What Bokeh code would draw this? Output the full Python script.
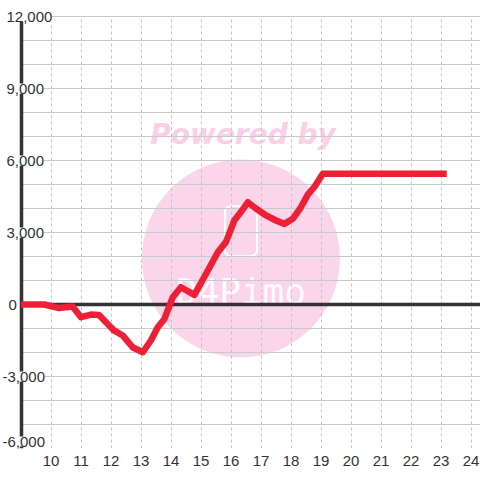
from bokeh.plotting import figure
from bokeh.models import ColumnDataSource, LabelSet, FixedTicker, Grid
from bokeh.core.properties import value
from bokeh.embed import file_html
from bokeh.resources import INLINE

# ---- data ----
hours = [9.0, 9.78, 10.27, 10.72, 11.0, 11.33, 11.6, 12.1, 12.39, 12.72,
         13.06, 13.33, 13.56, 13.78, 14.06, 14.33, 14.78, 15.17, 15.56, 15.83,
         16.11, 16.33, 16.56, 16.83, 17.17, 17.5, 17.78, 18.06, 18.33, 18.56,
         18.78, 19.06, 23.19]
profit = [0, 0, -150, -80, -530, -420, -440, -1080, -1290, -1780,
          -1990, -1500, -950, -600, 300, 720, 400, 1280, 2180, 2600,
          3500, 3850, 4260, 4000, 3710, 3500, 3360, 3570, 4050, 4580,
          4900, 5450, 5450]

x_ticks = list(range(10, 25))
y_grid_ticks = list(range(-6000, 12001, 1000))
y_label_ticks = list(range(-6000, 12001, 3000))
y_labels = [f"{v:,}" for v in y_label_ticks]
x_start = 9
y_min, y_max = -6000, 12000

FONT = "Liberation Sans"
TEXT_COLOR = "#333333"
LINE_RED = "#ee2036"
PINK = "#fbd5ea"

p = figure(frame_width=480, frame_height=448,
           x_range=(x_start - 20.5 / 30, x_start + 459.5 / 30),
           y_range=(y_min, y_max + 16 / 24 * 1000),
           output_backend="svg", toolbar_location=None,
           y_axis_location=None, x_axis_location="below",
           min_border_left=0, min_border_right=0,
           min_border_top=0, min_border_bottom=32)
p.outline_line_color = None
p.background_fill_color = "white"
p.border_fill_color = "white"

# grids
p.xgrid.ticker = FixedTicker(ticks=x_ticks)
p.xgrid.grid_line_color = "#c4c4c4"
p.xgrid.grid_line_dash = "3 3"
p.xgrid.grid_line_width = 1
p.xgrid.cross_bounds = (y_min, y_max)
p.ygrid.ticker = FixedTicker(ticks=y_grid_ticks)
p.ygrid.grid_line_color = "#cacaca"
p.ygrid.grid_line_width = 1
p.ygrid.cross_bounds = (x_start, 30)

# x axis
ax = p.xaxis[0]
ax.ticker = FixedTicker(ticks=x_ticks)
ax.axis_line_color = None
ax.major_tick_line_color = None
ax.minor_tick_line_color = None
ax.major_label_text_font_size = "15px"
ax.major_label_text_color = TEXT_COLOR
ax.major_label_text_font = FONT
ax.major_label_standoff = 1

# watermark (under the grid)
wm_x = 16.33
p.circle(x=[wm_x], y=[1917], radius=99, radius_units="screen",
         fill_color=PINK, line_color=None, level="image")
p.rect(x=[wm_x], y=[3050], width=32, height=50, width_units="screen",
       height_units="screen", fill_color=None, line_color="white",
       line_width=2, border_radius=6, level="image")
p.text(x=[wm_x], y=[560], text=["D4Pimo"], text_align="center",
       text_baseline="alphabetic", text_color="white",
       text_font=value("DejaVu Sans Mono"), text_font_size="36px",
       text_alpha=0.9, level="image")
p.text(x=[wm_x + 0.07], y=[7080], text=["Powered by"], text_align="center",
       text_baseline="alphabetic", text_color="#fbcfe5",
       text_font=value("DejaVu Sans"), text_font_style="bold italic",
       text_font_size="28px", level="image")

# zero line and y axis line (as bounded grid lines)
p.add_layout(Grid(dimension=1, ticker=FixedTicker(ticks=[0]),
                  grid_line_color="#333333", grid_line_width=3.5,
                  cross_bounds=(x_start, 30)))
p.add_layout(Grid(dimension=0, ticker=FixedTicker(ticks=[x_start]),
                  grid_line_color="#333333", grid_line_width=3.5,
                  cross_bounds=(y_min, y_max)))

# data line
p.line(hours, profit, line_color=LINE_RED, line_width=6.5,
       line_join="round", line_cap="butt")

# y labels over the axis line
dx = [-12.5 if t == "0" else (-18.5 if t.startswith("-") else -14.5)
      for t in y_labels]
dy = [7 if v == y_label_ticks[0] else 0 for v in y_label_ticks]
ysrc = ColumnDataSource(dict(x=[x_start] * len(y_labels), y=y_label_ticks,
                             text=y_labels, dx=dx, dy=dy))
p.add_layout(LabelSet(x="x", y="y", text="text", x_offset="dx",
                      y_offset="dy", source=ysrc, text_align="left",
                      text_baseline="middle", text_font_size="15px",
                      text_font=value(FONT), text_color=TEXT_COLOR,
                      background_fill_color="white"))

open("out.html", "w").write(file_html(p, INLINE))
